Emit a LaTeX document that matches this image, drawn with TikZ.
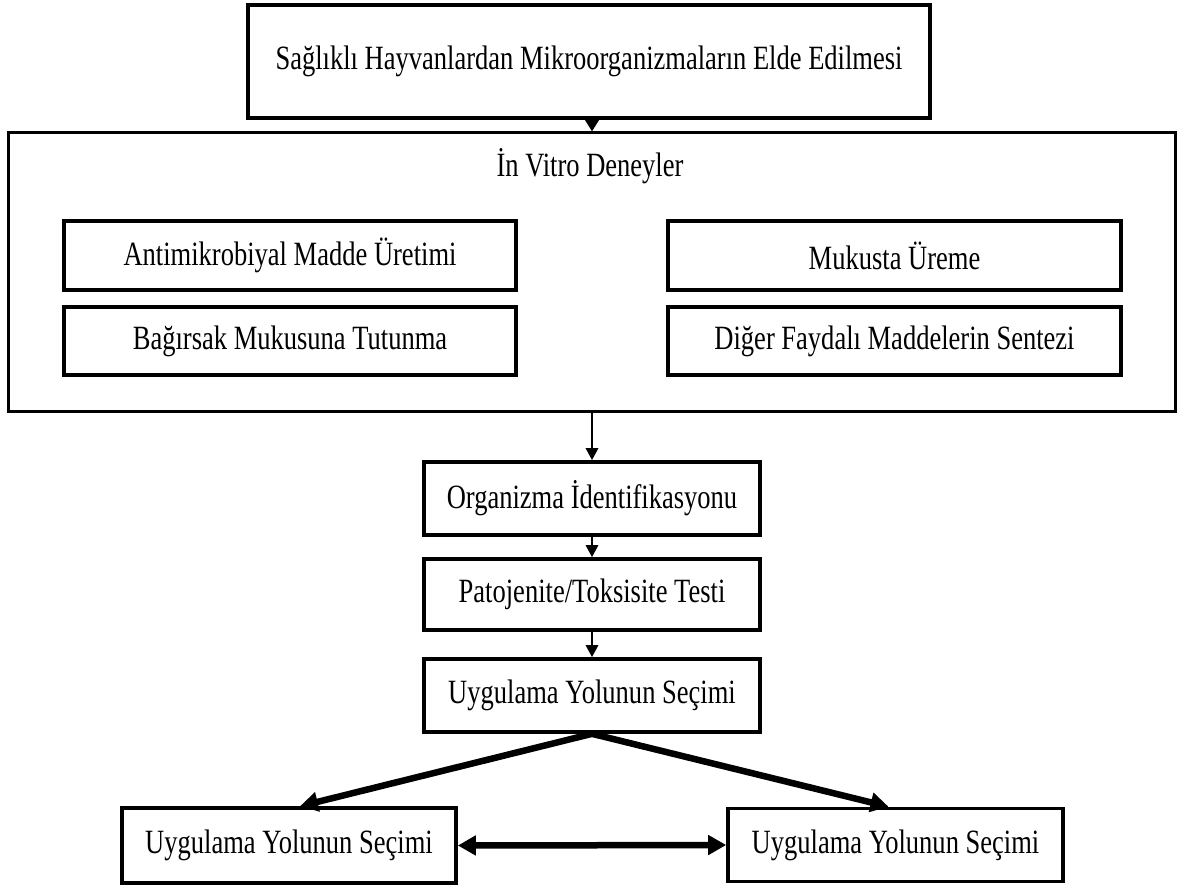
\documentclass[tikz,border=0pt]{standalone}
\usepackage{fontspec}
\setmainfont[FakeStretch=0.78]{Liberation Serif}
\usetikzlibrary{arrows.meta}
\begin{document}
\begin{tikzpicture}[x=1pt,y=-1pt,
  txt/.style={font=\fontsize{34}{38}\selectfont},
  box/.style={draw, line width=3.6pt, inner sep=0pt, anchor=center, txt},
  bigbox/.style={draw, line width=3pt, inner sep=0pt, anchor=center},
  thinarr/.style={line width=2.8pt, -{Triangle[length=12pt,width=12pt]}},
  toparr/.style={line width=4.5pt, -{Triangle[length=13pt,width=15pt]}},
  fatarr/.style={line width=6.5pt, -{Triangle[length=18pt,width=19pt]}},
  dblarr/.style={line width=6.5pt, {Triangle[length=18pt,width=19pt]}-{Triangle[length=18pt,width=19pt]}}]
\useasboundingbox (0,0) rectangle (1182,885);
\fill[white] (0,0) rectangle (1182,885);
\node[box, minimum width=682pt, minimum height=113pt] (top) at (589,61.5) {Sağlıklı Hayvanlardan Mikroorganizmaların Elde Edilmesi};
\node[bigbox, minimum width=1167pt, minimum height=278pt] (big) at (591.5,272) {};
\node[txt, inner sep=0pt] (title) at (590,166) {İn Vitro Deneyler};
\node[box, minimum width=452pt, minimum height=69pt] (a1) at (290,255.5) {Antimikrobiyal Madde Üretimi};
\node[box, minimum width=452pt, minimum height=68pt] (a2) at (290,341) {Bağırsak Mukusuna Tutunma};
\node[box, minimum width=453pt, minimum height=69pt] (b1) at (894.5,255.5) {Mukusta Üreme};
\node[box, minimum width=453pt, minimum height=68pt] (b2) at (894.5,341) {Diğer Faydalı Maddelerin Sentezi};
\node[box, minimum width=336pt, minimum height=73pt] (org) at (592,498.5) {Organizma İdentifikasyonu};
\node[box, minimum width=336pt, minimum height=71pt] (pat) at (592,594.5) {Patojenite/Toksisite Testi};
\node[box, minimum width=336pt, minimum height=73pt] (uyg) at (592,695.5) {Uygulama Yolunun Seçimi};
\node[box, minimum width=334pt, minimum height=75pt] (L) at (289,845.5) {Uygulama Yolunun Seçimi};
\node[box, minimum width=335pt, minimum height=73pt] (R) at (895.5,845) {Uygulama Yolunun Seçimi};
\draw[toparr] (org.north |- top.south) -- (org.north |- big.north);
\draw[thinarr] (org.north |- big.south) -- (org.north);
\draw[thinarr] (org.south) -- (pat.north);
\draw[thinarr] (pat.south) -- (uyg.north);
\draw[fatarr] (uyg.south) -- ([xshift=11pt]L.north);
\draw[fatarr] (uyg.south) -- ([xshift=-7pt]R.north);
\draw[dblarr] (L.east) -- (R.west);
\end{tikzpicture}
\end{document}
